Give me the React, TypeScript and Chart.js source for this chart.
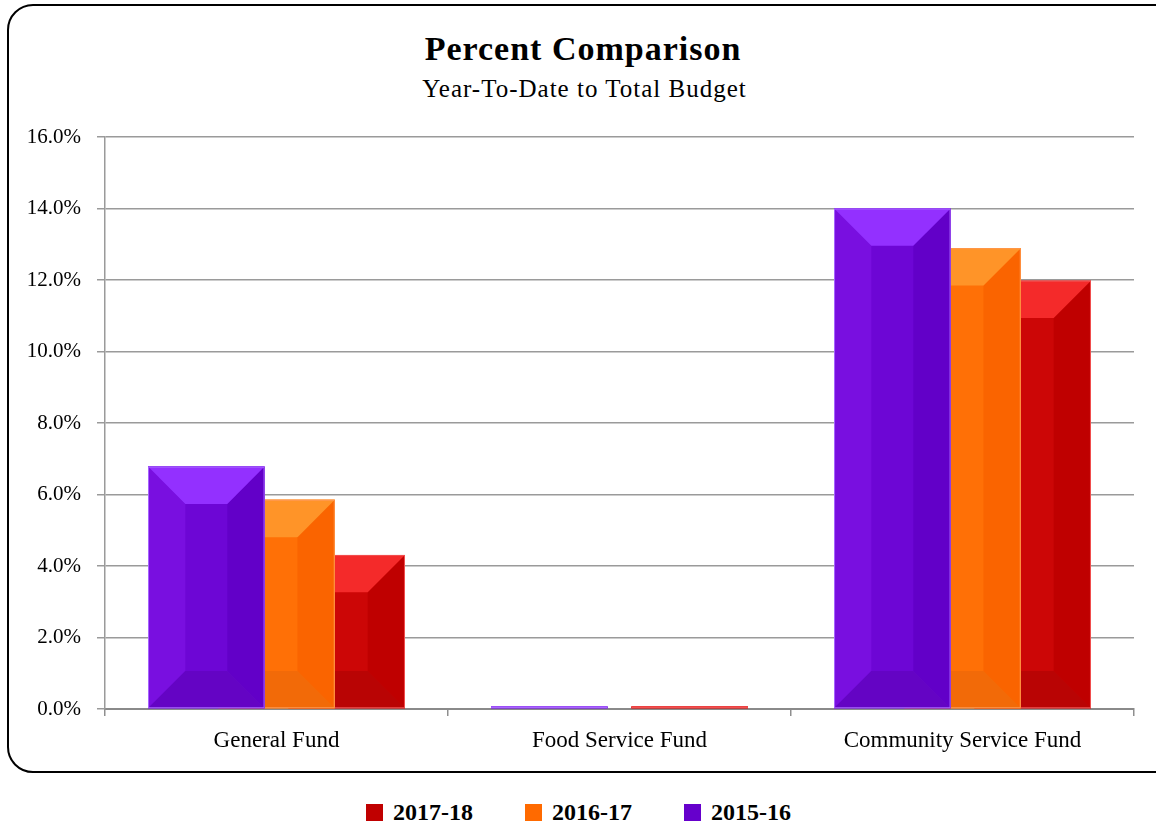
import { useEffect, useRef } from "react";
import { Chart, registerables } from "chart.js";
import type { ChartConfiguration, Plugin } from "chart.js";

Chart.register(...registerables);

const categories = ["General Fund", "Food Service Fund", "Community Service Fund"];
const fy1516 = [6.78, 0.07, 14.0];
const fy1617 = [5.85, 0, 12.89];
const fy1718 = [4.31, 0.07, 11.98];
const yTicks = [0, 2, 4, 6, 8, 10, 12, 14, 16];

const FONT = "'Liberation Serif', 'Times New Roman', serif";

// faces of each beveled bar: top, left, front, right, bottom
const FACES = [
  { top: "#9330FF", left: "#790FE0", front: "#6D06D5", right: "#6200C8", bottom: "#6404C4", edge: "#A866FF" },
  { top: "#FF9428", left: "#FF7A12", front: "#FF7006", right: "#FA6400", bottom: "#F26A08", edge: "#FF9A50" },
  { top: "#F42A2A", left: "#D40A0A", front: "#CC0606", right: "#BF0000", bottom: "#B90404", edge: "#F25050" },
];

const LEGEND = [
  { label: "2017-18", color: "#C00000" },
  { label: "2016-17", color: "#FF6A00" },
  { label: "2015-16", color: "#6600CC" },
];

const poly = (ctx: CanvasRenderingContext2D, pts: number[][], color: string) => {
  ctx.beginPath();
  ctx.moveTo(pts[0][0], pts[0][1]);
  for (let i = 1; i < pts.length; i++) ctx.lineTo(pts[i][0], pts[i][1]);
  ctx.closePath();
  ctx.fillStyle = color;
  ctx.fill();
};

const bevelPlugin: Plugin<"bar"> = {
  id: "bevel",
  afterDatasetDraw(chart, args) {
    const ctx = chart.ctx;
    const f = FACES[args.index];
    ctx.save();
    args.meta.data.forEach((el: any) => {
      const { x, y, base, width } = el.getProps(["x", "y", "base", "width"], true);
      const h = base - y;
      if (h <= 0) return;
      const L = x - width / 2;
      const R = x + width / 2;
      const T = y;
      const B = base;
      const b = Math.min(width * 0.32, h / 2);
      poly(ctx, [[L, T], [R, T], [R, B], [L, B]], f.front);
      poly(ctx, [[L, T], [L + b, T + b], [L + b, B - b], [L, B]], f.left);
      poly(ctx, [[R, T], [R - b, T + b], [R - b, B - b], [R, B]], f.right);
      poly(ctx, [[L, B], [R, B], [R - b, B - b], [L + b, B - b]], f.bottom);
      poly(ctx, [[L, T], [R, T], [R - b, T + b], [L + b, T + b]], f.top);
      ctx.strokeStyle = f.edge;
      ctx.lineWidth = 1;
      ctx.strokeRect(L + 0.5, T + 0.5, width - 1, h - 1);
    });
    ctx.restore();
  },
};

export default function App() {
  const canvasRef = useRef<HTMLCanvasElement | null>(null);
  const chartRef = useRef<Chart<"bar", number[], string> | null>(null);

  useEffect(() => {
    if (!canvasRef.current) return;
    chartRef.current?.destroy();

    const config: ChartConfiguration<"bar", number[], string> = {
      type: "bar",
      data: {
        labels: categories,
        datasets: [
          { label: "2015-16", data: fy1516, backgroundColor: FACES[0].front },
          { label: "2016-17", data: fy1617, backgroundColor: FACES[1].front },
          { label: "2017-18", data: fy1718, backgroundColor: FACES[2].front },
        ],
      },
      options: {
        responsive: true,
        maintainAspectRatio: false,
        animation: false,
        categoryPercentage: 0.614,
        barPercentage: 1.66,
        layout: { padding: { top: 137, right: 22, left: 0, bottom: 0 } },
        plugins: {
          legend: { display: false },
          tooltip: { enabled: false },
        },
        scales: {
          x: {
            grid: {
              offset: true,
              drawOnChartArea: false,
              drawTicks: true,
              tickLength: 7,
              color: "#8f8f8f",
              lineWidth: 1.5,
            },
            border: { color: "#8a8a8a", width: 2 },
            ticks: {
              padding: 11,
              color: "#000",
              font: { family: FONT, size: 23 },
            },
            afterFit: (scale) => {
              scale.height = 66;
            },
          },
          y: {
            min: 0,
            max: 16,
            afterBuildTicks: (scale) => {
              scale.ticks = yTicks.map((v) => ({ value: v }));
            },
            grid: {
              color: "#9a9a9a",
              lineWidth: 1.5,
              tickLength: 8,
            },
            border: { color: "#9a9a9a", width: 1.5 },
            ticks: {
              padding: 16,
              color: "#000",
              font: { family: FONT, size: 21 },
              callback: (v) => `${Number(v).toFixed(1)}%`,
            },
            afterFit: (scale) => {
              scale.width = 105;
            },
          },
        },
      },
      plugins: [bevelPlugin],
    };

    chartRef.current = new Chart(canvasRef.current, config);
    return () => chartRef.current?.destroy();
  }, []);

  return (
    <div
      style={{
        position: "fixed",
        left: 0,
        top: 0,
        width: 1156,
        height: 827,
        overflow: "hidden",
        background: "#fff",
        fontFamily: FONT,
      }}
    >
      <div
        style={{
          position: "absolute",
          left: 7,
          top: 4,
          width: 1175,
          height: 769,
          boxSizing: "border-box",
          border: "2px solid #000",
          borderRadius: 26,
        }}
      />
      <div
        style={{
          position: "absolute",
          left: 0,
          top: 32,
          width: 1166,
          textAlign: "center",
          fontSize: 34,
          fontWeight: 700,
          lineHeight: 1,
          letterSpacing: 1,
          color: "#000",
        }}
      >
        Percent Comparison
      </div>
      <div
        style={{
          position: "absolute",
          left: 0,
          top: 76,
          width: 1169,
          textAlign: "center",
          fontSize: 25,
          lineHeight: 1,
          letterSpacing: 1,
          color: "#000",
        }}
      >
        Year-To-Date to Total Budget
      </div>
      <div style={{ position: "absolute", left: 0, top: 0, width: 1156, height: 775 }}>
        <canvas ref={canvasRef} />
      </div>
      <div
        style={{
          position: "absolute",
          left: 0,
          top: 800,
          width: 1157,
          display: "flex",
          justifyContent: "center",
          gap: 52,
        }}
      >
        {LEGEND.map((it) => (
          <span
            key={it.label}
            style={{
              display: "flex",
              alignItems: "center",
              gap: 10,
              fontSize: 24,
              fontWeight: 700,
              lineHeight: 1,
              color: "#000",
            }}
          >
            <span style={{ width: 17, height: 17, background: it.color, flexShrink: 0 }} />
            {it.label}
          </span>
        ))}
      </div>
    </div>
  );
}
